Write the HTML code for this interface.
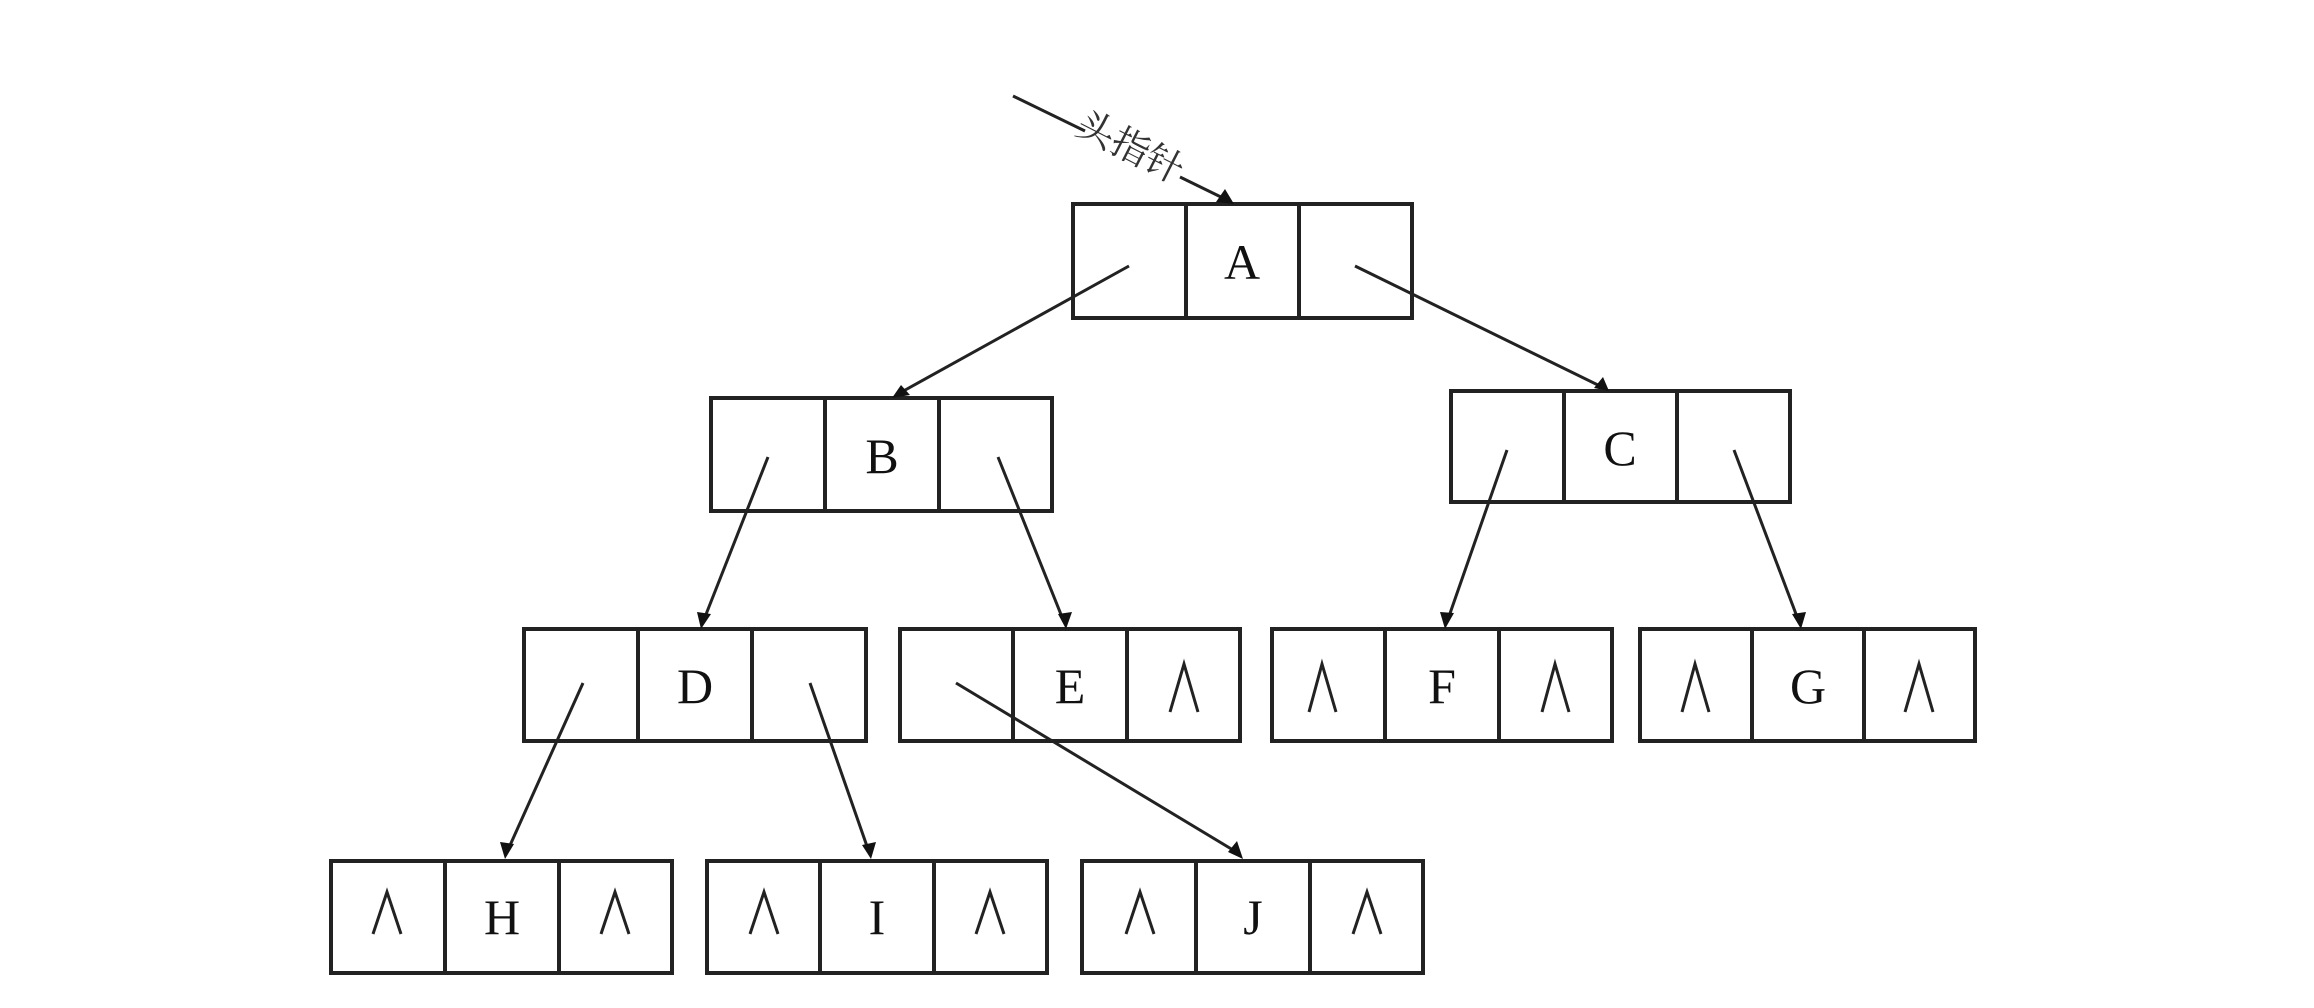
<!DOCTYPE html>
<html><head><meta charset="utf-8"><style>
html,body{margin:0;padding:0;background:#fff;}
svg{display:block;}
</style></head><body>
<svg width="2314" height="1008" viewBox="0 0 2314 1008" xmlns="http://www.w3.org/2000/svg">
<defs>
<marker id="ah" markerWidth="10" markerHeight="10" refX="9" refY="5" orient="auto" markerUnits="userSpaceOnUse" viewBox="0 0 10 10">
</marker>
</defs>
<g fill="none" stroke="#222" stroke-width="4">
<!-- boxes -->
<rect x="1073" y="204" width="339" height="114"/><line x1="1186" y1="204" x2="1186" y2="318"/><line x1="1299" y1="204" x2="1299" y2="318"/>
<rect x="711" y="398" width="341" height="113"/><line x1="825" y1="398" x2="825" y2="511"/><line x1="939" y1="398" x2="939" y2="511"/>
<rect x="1451" y="391" width="339" height="111"/><line x1="1564" y1="391" x2="1564" y2="502"/><line x1="1677" y1="391" x2="1677" y2="502"/>
<rect x="524" y="629" width="342" height="112"/><line x1="638" y1="629" x2="638" y2="741"/><line x1="752" y1="629" x2="752" y2="741"/>
<rect x="900" y="629" width="340" height="112"/><line x1="1013" y1="629" x2="1013" y2="741"/><line x1="1127" y1="629" x2="1127" y2="741"/>
<rect x="1272" y="629" width="340" height="112"/><line x1="1385" y1="629" x2="1385" y2="741"/><line x1="1499" y1="629" x2="1499" y2="741"/>
<rect x="1640" y="629" width="335" height="112"/><line x1="1752" y1="629" x2="1752" y2="741"/><line x1="1864" y1="629" x2="1864" y2="741"/>
<rect x="331" y="861" width="341" height="112"/><line x1="445" y1="861" x2="445" y2="973"/><line x1="559" y1="861" x2="559" y2="973"/>
<rect x="707" y="861" width="340" height="112"/><line x1="820" y1="861" x2="820" y2="973"/><line x1="934" y1="861" x2="934" y2="973"/>
<rect x="1082" y="861" width="341" height="112"/><line x1="1196" y1="861" x2="1196" y2="973"/><line x1="1310" y1="861" x2="1310" y2="973"/>
</g>
<g stroke="#222" stroke-width="3" fill="none">
<line x1="1013" y1="96" x2="1085" y2="131"/>
<line x1="1180" y1="177" x2="1225" y2="199"/>
<line x1="1129" y1="266" x2="898" y2="394"/>
<line x1="1355" y1="266" x2="1602" y2="387"/>
<line x1="768" y1="457" x2="703" y2="622"/>
<line x1="998" y1="457" x2="1064" y2="622"/>
<line x1="1507" y1="450" x2="1447" y2="622"/>
<line x1="1734" y1="450" x2="1799" y2="622"/>
<line x1="583" y1="683" x2="507" y2="852"/>
<line x1="810" y1="683" x2="869" y2="852"/>
<line x1="956" y1="683" x2="1238" y2="853"/>
</g>
<g fill="#111">
<polygon points="1234,204 1216,202 1225,189"/>
<polygon points="892,398 901,385 910,395" transform=""/>
<polygon points="1609,391 1594,388 1603,377"/>
<polygon points="701,629 697,612 711,614"/>
<polygon points="1066,629 1058,614 1072,612"/>
<polygon points="1445,629 1440,612 1454,613"/>
<polygon points="1801,629 1792,614 1806,612"/>
<polygon points="505,859 500,842 514,844"/>
<polygon points="871,859 862,845 876,842"/>
<polygon points="1243,859 1228,852 1237,841"/>
</g>
<text x="1130" y="160" font-family="'Liberation Serif','Noto Serif CJK SC',serif" font-size="38" fill="#333" text-anchor="middle" transform="rotate(27 1130 148)">头指针</text>
<g font-family="'Liberation Serif',serif" font-size="50" fill="#111" text-anchor="middle">
<text x="1242" y="279">A</text>
<text x="882" y="473">B</text>
<text x="1620" y="465">C</text>
<text x="695" y="703">D</text>
<text x="1070" y="703">E</text>
<text x="1442" y="703">F</text>
<text x="1808" y="703">G</text>
<text x="502" y="934">H</text>
<text x="877" y="934">I</text>
<text x="1253" y="934">J</text>
</g>
<g stroke="#222" stroke-width="3" fill="none">
<polyline points="1170,712 1184,664 1198,712"/>
<polyline points="1309,712 1322,664 1336,712"/>
<polyline points="1542,712 1555,664 1569,712"/>
<polyline points="1682,712 1695,664 1709,712"/>
<polyline points="1905,712 1919,664 1933,712"/>
<polyline points="373,934 387,892 401,934"/>
<polyline points="601,934 615,892 629,934"/>
<polyline points="750,934 764,892 778,934"/>
<polyline points="976,934 990,892 1004,934"/>
<polyline points="1126,934 1140,892 1154,934"/>
<polyline points="1353,934 1367,892 1381,934"/>
</g>
</svg>
</body></html>
